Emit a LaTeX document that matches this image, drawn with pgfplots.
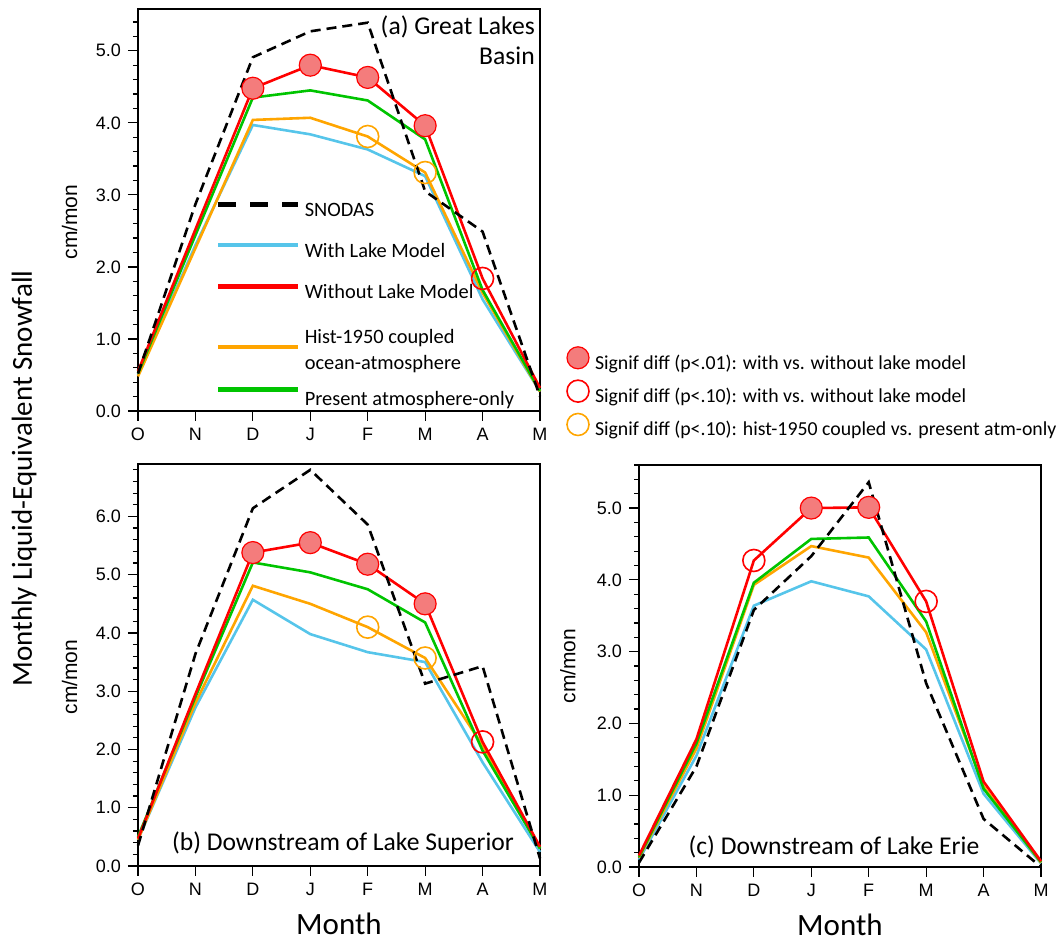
\documentclass[border=0pt]{standalone}
\usepackage{fontspec}
\setmainfont{Liberation Sans}
\newfontfamily\cali{Carlito}
\usepackage{pgfplots}
\pgfplotsset{compat=1.18}
\usepackage{pgfplotstable}

\definecolor{lakeblue}{HTML}{56C5EA}
\definecolor{nolakered}{HTML}{FF0000}
\definecolor{historange}{HTML}{FFA500}
\definecolor{atmgreen}{HTML}{00C400}
\definecolor{sigfill}{HTML}{F47C7C}

\newcommand{\legfont}{\cali\fontsize{10.2}{12.5}\selectfont}

% columns: month index, SNODAS, with lake, without lake, hist-1950 coupled, present atm-only
\pgfplotstableread{
m snodas with without hist present
0 0.52 0.50 0.55 0.48 0.52
1 2.87 2.30 2.52 2.26 2.44
2 4.91 3.97 4.48 4.04 4.35
3 5.27 3.84 4.80 4.07 4.45
4 5.39 3.63 4.63 3.81 4.31
5 3.05 3.26 3.96 3.31 3.77
6 2.49 1.55 1.84 1.64 1.68
7 0.20 0.27 0.32 0.27 0.28
}\basin
\pgfplotstableread{
m snodas with without hist present
0 0.35 0.45 0.47 0.45 0.50
1 3.64 2.72 2.95 2.80 2.90
2 6.14 4.57 5.38 4.81 5.21
3 6.80 3.98 5.55 4.50 5.04
4 5.86 3.67 5.18 4.10 4.75
5 3.13 3.50 4.50 3.57 4.18
6 3.43 1.78 2.13 2.07 1.98
7 0.13 0.24 0.33 0.30 0.30
}\superior
\pgfplotstableread{
m snodas with without hist present
0 0.06 0.10 0.16 0.13 0.14
1 1.40 1.55 1.78 1.65 1.72
2 3.58 3.64 4.27 3.93 3.96
3 4.33 3.98 5.00 4.47 4.57
4 5.36 3.77 5.01 4.31 4.59
5 2.56 3.03 3.70 3.27 3.42
6 0.67 1.02 1.19 1.12 1.09
7 0.00 0.05 0.08 0.06 0.07
}\erie

\pgfplotsset{
  panel/.style={
    scale only axis, width=201pt, height=201pt,
    xmin=0, xmax=7, ymin=0, clip=false,
    xtick={0,...,7}, xticklabels={O,N,D,J,F,M,A,M},
    ytick distance=1, minor y tick num=4,
    tick align=outside, xtick pos=bottom, ytick pos=left,
    major tick length=5pt, minor tick length=2.5pt,
    axis line style={line width=0.7pt},
    every tick/.style={black, line width=0.6pt},
    tick label style={font=\fontsize{9}{10}\selectfont},
    yticklabel style={/pgf/number format/fixed, /pgf/number format/fixed zerofill,
      /pgf/number format/precision=1},
    /pgf/number format/assume math mode=true,
    ylabel={cm/mon},
    every axis y label/.style={at={(axis description cs:-0.17,0.47)}, rotate=90,
      anchor=center, font=\fontsize{10.5}{12}\selectfont},
    every axis x label/.style={at={(axis description cs:0.5,-0.143)}, anchor=center,
      inner sep=1pt, font=\cali\fontsize{15.5}{18}\selectfont},
  },
  obs/.style={black, line width=1.3pt, dash pattern=on 5pt off 3pt},
  ln/.style={#1, line width=1.3pt},
  sigA/.style={only marks, mark=*, mark size=5.5pt, mark options={draw=red, fill=sigfill, line width=0.6pt}},
  sigB/.style={only marks, mark=o, mark size=5.5pt, mark options={draw=red, line width=0.8pt}},
  sigC/.style={only marks, mark=o, mark size=5.5pt, mark options={draw=historange, line width=0.8pt}},
}

\begin{document}
\begin{tikzpicture}
\useasboundingbox (0,0) rectangle (531pt,470.5pt);

% (a) Great Lakes Basin
\begin{axis}[panel, at={(69pt,265pt)}, anchor=south west, ymax=5.58,
  legend image code/.code={\draw[#1] (0pt,3.5pt) -- (40pt,3.5pt);},
  legend cell align=left,
  legend style={draw=none, fill=none, at={(0.178,0.538)}, anchor=north west,
    row sep=8pt, nodes={inner sep=2pt, font=\legfont}}]
\addplot[ln=lakeblue, forget plot] table[x=m, y=with] {\basin};
\addplot[ln=historange, forget plot] table[x=m, y=hist] {\basin};
\addplot[ln=atmgreen, forget plot] table[x=m, y=present] {\basin};
\addplot[ln=nolakered, forget plot] table[x=m, y=without] {\basin};
\addplot[obs, forget plot] table[x=m, y=snodas] {\basin};
\addplot[sigA, forget plot] coordinates {(2,4.48) (3,4.80) (4,4.63) (5,3.96)};
\addplot[sigB, forget plot] coordinates {(6,1.84)};
\addplot[sigC, forget plot] coordinates {(4,3.81) (5,3.31)};
\addlegendimage{black, line width=2.4pt, dash pattern=on 9pt off 7pt}
\addlegendimage{lakeblue, line width=2.4pt}
\addlegendimage{nolakered, line width=2.4pt}
\addlegendimage{historange, line width=2.4pt, yshift=-5.5pt}
\addlegendimage{atmgreen, line width=2.4pt}
\legend{{\legfont SNODAS},
  {\legfont With Lake Model},
  {\legfont Without Lake Model},
  {\legfont\begin{tabular}{@{}l@{}}Hist-1950 coupled\\[0.5pt]ocean-atmosphere\rule[-5pt]{0pt}{5pt}\end{tabular}},
  {\legfont\rule{0pt}{10.5pt}Present atmosphere-only}}
\node[anchor=north east, align=right, inner sep=0pt, font=\cali\fontsize{12.8}{15}\selectfont]
  at (rel axis cs:0.988,0.983) {(a) Great Lakes\\Basin};
\node[rotate=90, anchor=center, font=\cali\fontsize{14.5}{17}\selectfont]
  at (rel axis cs:-0.283,-0.168) {Monthly Liquid-Equivalent Snowfall};
\end{axis}

% (b) Downstream of Lake Superior
\begin{axis}[panel, at={(69pt,37.5pt)}, anchor=south west, ymax=6.9, xlabel={Month}]
\addplot[ln=lakeblue] table[x=m, y=with] {\superior};
\addplot[ln=historange] table[x=m, y=hist] {\superior};
\addplot[ln=atmgreen] table[x=m, y=present] {\superior};
\addplot[ln=nolakered] table[x=m, y=without] {\superior};
\addplot[obs] table[x=m, y=snodas] {\superior};
\addplot[sigA] coordinates {(2,5.38) (3,5.55) (4,5.18) (5,4.50)};
\addplot[sigB] coordinates {(6,2.13)};
\addplot[sigC] coordinates {(4,4.10) (5,3.57)};
\node[font=\cali\fontsize{12.8}{15}\selectfont] at (rel axis cs:0.51,0.057)
  {(b) Downstream of Lake Superior};
\end{axis}

% (c) Downstream of Lake Erie
\begin{axis}[panel, at={(319.5pt,37pt)}, anchor=south west, ymax=5.6, xlabel={Month},
  every axis y label/.style={at={(axis description cs:-0.177,0.5)}, rotate=90,
    anchor=center, font=\fontsize{10.5}{12}\selectfont},
  legend image code/.code={\draw[#1] plot coordinates {(5.5pt,2.8pt)};},
  legend cell align=left,
  legend style={draw=none, fill=none, at={(-0.195,1.305)}, anchor=north west,
    row sep=2.5pt, column sep=1.5pt,
    nodes={inner sep=1.5pt, font=\cali\fontsize{9.9}{12}\selectfont}}]
\addplot[ln=lakeblue, forget plot] table[x=m, y=with] {\erie};
\addplot[ln=historange, forget plot] table[x=m, y=hist] {\erie};
\addplot[ln=atmgreen, forget plot] table[x=m, y=present] {\erie};
\addplot[ln=nolakered, forget plot] table[x=m, y=without] {\erie};
\addplot[obs, forget plot] table[x=m, y=snodas] {\erie};
\addplot[sigA, forget plot] coordinates {(3,5.00) (4,5.01)};
\addplot[sigB, forget plot] coordinates {(2,4.27) (5,3.70)};
\addlegendimage{sigA}
\addlegendentry{Signif diff (p<.01): with vs. without lake model}
\addlegendimage{sigB}
\addlegendentry{Signif diff (p<.10): with vs. without lake model}
\addlegendimage{sigC}
\addlegendentry{Signif diff (p<.10): hist-1950 coupled vs. present atm-only}
\node[font=\cali\fontsize{12.8}{15}\selectfont] at (rel axis cs:0.485,0.05)
  {(c) Downstream of Lake Erie};
\end{axis}
\end{tikzpicture}
\end{document}
